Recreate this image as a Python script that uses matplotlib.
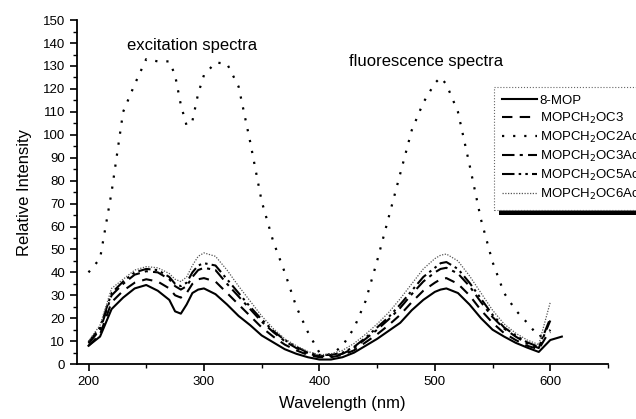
import numpy as np
import matplotlib
matplotlib.use("Agg")
import matplotlib.pyplot as plt
from matplotlib.ticker import MultipleLocator
from matplotlib.patches import Rectangle
from matplotlib.transforms import IdentityTransform

plt.rcParams['font.family'] = ['Liberation Sans', 'DejaVu Sans']

nan = np.nan
wavelength = [200, 210, 220, 230, 240, 250, 260, 270, 275, 280, 285, 290, 295, 300,
              310, 320, 330, 340, 350, 360, 370, 380, 390, 400, 410, 420, 430, 440,
              450, 460, 470, 480, 490, 500, 505, 510, 520, 530, 540, 550, 560, 570,
              580, 590, 600, 610]

mop = [8, 12, 24, 29, 33, 34.5, 32, 28, 23, 22, 26, 31, 32.5, 33,
       30.5, 26, 21, 17, 12.5, 9.5, 6.5, 4.5, 3, 2, 2, 3, 5, 8,
       11, 14.5, 18, 23.5, 28, 31.5, 32.5, 33, 31, 26, 20, 15, 12, 9.3,
       7.2, 5.3, 10.5, 12]
oc3 = [8, 13, 27, 32, 35.5, 37, 36, 33, 30, 29, 31, 35, 37, 37.5,
       36, 31, 26, 21, 16, 12, 8.5, 6, 4, 3, 3, 4, 6, 9.5,
       13, 17, 21.5, 27, 32, 35.5, 37, 37.5, 35, 30, 23.5, 18, 13.5, 10.5,
       8, 6.5, 15, nan]
oc2ac = [40, 46, 75, 110, 122, 133, 132, 132, 126, 113, 104, 106, 118, 126,
         131.5, 131, 121, 97, 71, 53.5, 40, 25, 14, 5, 4, 8, 15.7, 27.5,
         45, 64, 83, 102, 114, 122.5, 125, 122, 110, 87, 63, 44.5, 31, 23.5,
         18, 12, 14, nan]
oc3ac = [9, 15, 30, 35, 39, 40.5, 40, 37, 34, 32.5, 34, 38, 41, 42,
         41, 35, 29.5, 24, 18.5, 14, 10, 7, 4.5, 3.5, 3.5, 4.5, 7, 11,
         15, 19.5, 24.5, 30.5, 36, 40, 41.5, 42, 39.5, 34, 27, 20.5, 15.5, 12,
         9, 7, 19, nan]
oc5ac = [9.5, 16, 31, 36, 40, 41.5, 41, 38, 35, 34, 35.5, 40, 43, 44,
         43, 37, 31, 25, 19.5, 14.5, 10.5, 7.5, 5, 4, 4, 5, 7.5, 11.5,
         16, 20.5, 26, 32, 38, 42, 44, 44.5, 41.5, 35.5, 28.5, 21.5, 16, 12.5,
         9.5, 7.5, 20, nan]
oc6ac = [10, 17, 33, 37, 41, 42.5, 42, 39.5, 37, 36, 38, 43, 47, 48.5,
         47, 41, 34, 27.5, 21, 15.5, 11, 8, 5.5, 4, 4.5, 6, 9, 13,
         17.5, 22.5, 28.5, 35, 41.5, 46, 47.5, 48, 45, 38.5, 31, 23.5, 17.5, 13.5,
         10.5, 8.5, 27, nan]

labels = ['8-MOP', 'MOPCH$_2$OC3', 'MOPCH$_2$OC2Ac', 'MOPCH$_2$OC3Ac',
          'MOPCH$_2$OC5Ac', 'MOPCH$_2$OC6Ac']

fig = plt.figure(figsize=(6.36, 4.19), dpi=100)
ax = fig.add_axes([0.121, 0.131, 0.835, 0.821])

ax.plot(wavelength, mop, color='black', lw=1.5, label=labels[0])
ax.plot(wavelength, oc3, color='black', lw=1.5, linestyle=(0, (5, 3.5)), label=labels[1])
ax.plot(wavelength, oc2ac, color='black', lw=1.6, linestyle=(0, (1, 4)), label=labels[2])
ax.plot(wavelength, oc3ac, color='black', lw=1.5, linestyle=(0, (6, 2.5, 1.5, 2.5)), label=labels[3])
ax.plot(wavelength, oc5ac, color='black', lw=1.5,
        linestyle=(0, (6, 2, 1.2, 2, 1.2, 2)), label=labels[4])
ax.plot(wavelength, oc6ac, color='#555555', lw=0.9, linestyle=(0, (1, 1.2)), label=labels[5])

ax.set_xlim(190, 650)
ax.set_ylim(0, 150)
ax.xaxis.set_major_locator(MultipleLocator(100))
ax.xaxis.set_minor_locator(MultipleLocator(50))
ax.yaxis.set_major_locator(MultipleLocator(10))
ax.yaxis.set_minor_locator(MultipleLocator(5))
ax.tick_params(which='major', direction='out', length=5, width=1.2, labelsize=9.5)
ax.tick_params(which='minor', direction='out', length=3, width=1)
for s in ['top', 'right']:
    ax.spines[s].set_visible(False)
for s in ['left', 'bottom']:
    ax.spines[s].set_linewidth(1.3)

ax.set_xlabel('Wavelength (nm)', fontsize=12, labelpad=6)
ax.set_ylabel('Relative Intensity', fontsize=12, labelpad=8)

ax.text(290, 139, 'excitation spectra', fontsize=12, ha='center', va='center')
ax.text(492, 132, 'fluorescence spectra', fontsize=12, ha='center', va='center')

# legend runs past the right edge of the figure, as in the original
leg = ax.legend(loc='upper left', bbox_to_anchor=(487 / 636, 1 - 80 / 419),
                bbox_transform=fig.transFigure, fontsize=9.5, frameon=True,
                fancybox=False, framealpha=1, facecolor='white',
                handlelength=2.7, handletextpad=0.2,
                labelspacing=0.3, borderpad=0.6)
leg.get_frame().set_edgecolor('#666666')
leg.get_frame().set_linewidth(0.8)
leg.get_frame().set_linestyle(':')
leg.set_zorder(6)

# heavy black drop shadow under the legend box
fig.canvas.draw()
bb = leg.get_window_extent()
shadow = Rectangle((bb.x0 + 5, bb.y0 - 5), bb.width, bb.height, transform=IdentityTransform(),
                   facecolor='black', edgecolor='none', zorder=5.5, clip_on=False)
ax.add_patch(shadow)

fig.savefig('out.png', dpi=100)
